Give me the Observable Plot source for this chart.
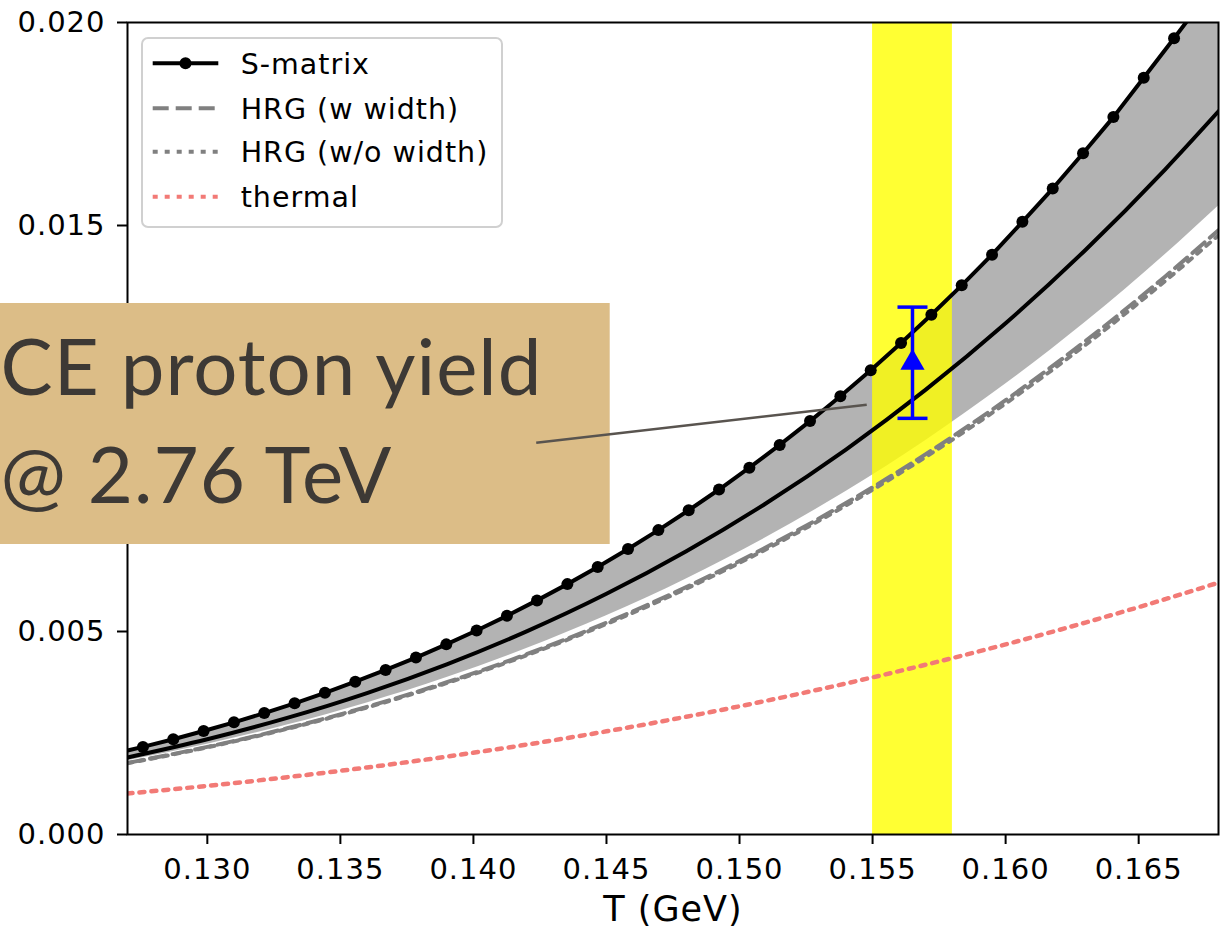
<!DOCTYPE html>
<html><head><meta charset="utf-8">
<script src="https://cdn.jsdelivr.net/npm/d3@7"></script>
<script src="https://cdn.jsdelivr.net/npm/@observablehq/plot@0.6"></script>
<style>
html,body{margin:0;padding:0;background:#fff;overflow:hidden}
#wrap{position:relative;width:1220px;height:935px}
#legend{position:absolute;left:141px;top:37px}
</style></head><body><div id="wrap"></div>
<script>
// ---- axis ticks ----
const xTicks = [0.130, 0.135, 0.140, 0.145, 0.150, 0.155, 0.160, 0.165];
const yTicks = [0.000, 0.005, 0.010, 0.015, 0.020];
const yTicksHidden = [0.010]; // covered by the pasted label in the reference

// ---- S-matrix (markers) ----
const sMatrixT = [0.12644,0.12758,0.12872,0.12986,0.13100,0.13214,0.13328,0.13442,0.13556,0.13670,
  0.13784,0.13898,0.14012,0.14126,0.14239,0.14353,0.14467,0.14581,0.14695,0.14809,0.14923,0.15037,
  0.15151,0.15265,0.15379,0.15493,0.15607,0.15721,0.15835,0.15949,0.16063,0.16177,0.16291,0.16405,
  0.16519,0.16633,0.16747];
const sMatrixYield = [0.001982,0.002158,0.002347,0.002548,0.002762,0.002990,0.003232,0.003490,0.003763,0.004052,
  0.004358,0.004683,0.005025,0.005386,0.005766,0.006167,0.006589,0.007032,0.007497,0.007986,0.008497,0.009034,
  0.009595,0.010182,0.010795,0.011436,0.012104,0.012800,0.013526,0.014282,0.01509,0.01591,0.01678,0.01767,
  0.01864,0.01961,0.02060];

// ---- smooth curves on a common temperature grid ----
const gridT = [0.127,0.130,0.133,0.136,0.139,0.142,0.145,0.148,0.151,0.154,0.157,0.160,0.163,0.166,0.168];
const bandUpper = [0.002067,0.002573,0.003172,0.003873,0.004690,0.005632,0.006713,0.007944,0.009341,0.010910,0.012670,0.014643,0.01684,0.01933,0.02105];
const bandLower = [0.001817,0.002223,0.002696,0.003242,0.003868,0.004580,0.005386,0.006296,0.007315,0.008449,0.009707,0.011093,0.012616,0.014285,0.015481];
const sMatrixCentral = [0.001898,0.002346,0.002872,0.003484,0.004192,0.005003,0.005928,0.006977,0.008159,0.009482,0.010956,0.012592,0.014398,0.016385,0.017812];
const hrgWidth = [0.001764,0.002158,0.002616,0.003145,0.003751,0.004440,0.005219,0.006095,0.007074,0.008163,0.009370,0.010697,0.012154,0.013746,0.014885];
const hrgNoWidth = [0.001755,0.002147,0.002602,0.003128,0.003730,0.004414,0.005187,0.006056,0.007027,0.008106,0.009302,0.010617,0.012060,0.013636,0.014760];
const thermal = [0.001009,0.001198,0.001412,0.001651,0.001918,0.002214,0.002541,0.002900,0.003293,0.003720,0.004183,0.004682,0.005220,0.005797,0.006203];

// ---- freeze-out band and ALICE point ----
const freezeLo = [0.155], freezeHi = [0.158];
const aliceT = [0.1565], aliceYield = [0.01162], aliceErr = [0.00137];

// ---- annotation (pasted label) ----
const annotLines = ["CE proton yield", "@ 2.76 TeV"];
const annotLineT = [0.12223, 0.12223];
const annotLineV = [0.011443, 0.008783];
const annotBoxT = [0.12200, 0.14514];
const annotBoxV = [0.007143, 0.013079];
const pointerT = [0.14236, 0.15478];
const pointerV = [0.009648, 0.010584];

// ---- legend ----
const legendLabels = ["S-matrix", "HRG (w width)", "HRG (w/o width)", "thermal"];
const legendColors = ["black", "gray", "gray", "#f27a76"];
const legendDash = [null, "16,7", "5,7", "5,7"];

// build tables
const sRows = sMatrixT.map((T, i) => ({T, v: sMatrixYield[i]}));
const band = gridT.map((T, i) => ({T, lo: bandLower[i], hi: bandUpper[i]}));
const central = gridT.map((T, i) => ({T, v: sMatrixCentral[i]}));
const hrgW = gridT.map((T, i) => ({T, v: hrgWidth[i]}));
const hrgN = gridT.map((T, i) => ({T, v: hrgNoWidth[i]}));
const therm = gridT.map((T, i) => ({T, v: thermal[i]}));
const freeze = freezeLo.map((lo, i) => ({lo, hi: freezeHi[i]}));
const alice = aliceT.map((T, i) => ({T, v: aliceYield[i], lo: aliceYield[i] - aliceErr[i], hi: aliceYield[i] + aliceErr[i]}));
const annot = annotLines.map((text, i) => ({text, T: annotLineT[i], v: annotLineV[i]}));
const box = [{x1: annotBoxT[0], x2: annotBoxT[1], y1: annotBoxV[0], y2: annotBoxV[1]}];
const pointer = [{x1: pointerT[0], y1: pointerV[0], x2: pointerT[1], y2: pointerV[1]}];

const capSymbol = {draw(ctx, size) { const w = Math.sqrt(size / Math.PI); ctx.moveTo(-w, 0); ctx.lineTo(w, 0); }};
const fmt = d3.format(".3f");
const yFmt = d => yTicksHidden.some(h => Math.abs(h - d) < 1e-9) ? "" : fmt(d);

const chart = Plot.plot({
  width: 1220, height: 935,
  marginLeft: 127, marginRight: 2, marginTop: 22, marginBottom: 101,
  x: {domain: [0.127, 0.168]},
  y: {domain: [0, 0.02]},
  style: {fontFamily: "'DejaVu Sans', sans-serif", fontSize: "29px", letterSpacing: "1px", background: "transparent", color: "black", overflow: "visible"},
  marks: [
    Plot.areaY(band, {x: "T", y1: "lo", y2: "hi", fill: "gray", fillOpacity: 0.6, curve: "monotone-x", clip: true}),
    Plot.rect(freeze, {x1: "lo", x2: "hi", fill: "yellow", fillOpacity: 0.8, inset: 0}),
    Plot.line(central, {x: "T", y: "v", stroke: "black", strokeWidth: 4, curve: "monotone-x", clip: true}),
    Plot.line(hrgW, {x: "T", y: "v", stroke: "gray", strokeWidth: 4, strokeDasharray: "16,7", curve: "monotone-x", clip: true}),
    Plot.line(hrgN, {x: "T", y: "v", stroke: "gray", strokeWidth: 4, strokeDasharray: "5,7", curve: "monotone-x", clip: true}),
    Plot.line(therm, {x: "T", y: "v", stroke: "#f27a76", strokeWidth: 4.5, strokeDasharray: "5,7", curve: "monotone-x", clip: true}),
    Plot.line(sRows, {x: "T", y: "v", stroke: "black", strokeWidth: 4, clip: true}),
    Plot.dot(sRows, {x: "T", y: "v", r: 6, fill: "black", clip: true}),
    Plot.ruleX(alice, {x: "T", y1: "lo", y2: "hi", stroke: "blue", strokeWidth: 3.5}),
    Plot.dot(alice, {x: "T", y: "lo", symbol: capSymbol, r: 15, stroke: "blue", strokeWidth: 3.5}),
    Plot.dot(alice, {x: "T", y: "hi", symbol: capSymbol, r: 15, stroke: "blue", strokeWidth: 3.5}),
    Plot.dot(alice, {x: "T", y: "v", symbol: "triangle", r: 9, fill: "blue"}),
    Plot.axisX({ticks: xTicks, tickFormat: fmt, tickSize: 10, tickPadding: 14, strokeWidth: 2, label: null}),
    Plot.axisY({ticks: yTicks, tickFormat: yFmt, tickSize: 10, tickPadding: 12, strokeWidth: 2, label: null}),
    Plot.frame({stroke: "black", strokeWidth: 2}),
    Plot.text(["T (GeV)"], {frameAnchor: "bottom", dy: 86, fontSize: 35, text: d => d}),
    Plot.rect(box, {x1: "x1", x2: "x2", y1: "y1", y2: "y2", fill: "#dcbd87", inset: 0}),
    Plot.text(annot, {x: "T", y: "v", text: "text", textAnchor: "start", fontSize: 78, fontFamily: "Lato, sans-serif", fill: "#3d3935"}),
    Plot.link(pointer, {x1: "x1", y1: "y1", x2: "x2", y2: "y2", stroke: "#59544f", strokeWidth: 2.5})
  ]
});
document.getElementById("wrap").appendChild(chart);

// legend overlay
const lg = d3.select("#wrap").append("svg").attr("id", "legend").attr("width", 363).attr("height", 192)
  .style("font-family", "'DejaVu Sans', sans-serif").style("font-size", "28.5px").style("letter-spacing", "1px");
lg.append("rect").attr("x", 1).attr("y", 1).attr("width", 360).attr("height", 189).attr("rx", 6)
  .attr("fill", "white").attr("fill-opacity", 0.8).attr("stroke", "#d0d0d0").attr("stroke-width", 2);
const rowY = [26.3, 71.3, 114.7, 159.7];
legendLabels.forEach((label, i) => {
  const g = lg.append("g");
  const ln = g.append("line").attr("x1", 11.7).attr("x2", 77.3).attr("y1", rowY[i]).attr("y2", rowY[i])
    .attr("stroke", legendColors[i]).attr("stroke-width", 4);
  if (legendDash[i]) ln.attr("stroke-dasharray", legendDash[i]);
  if (i === 0) g.append("circle").attr("cx", 44.5).attr("cy", rowY[i]).attr("r", 6).attr("fill", "black");
  g.append("text").attr("x", 99.7).attr("y", rowY[i]).attr("dy", "0.36em").attr("fill", "black").text(label);
});
</script></body></html>
